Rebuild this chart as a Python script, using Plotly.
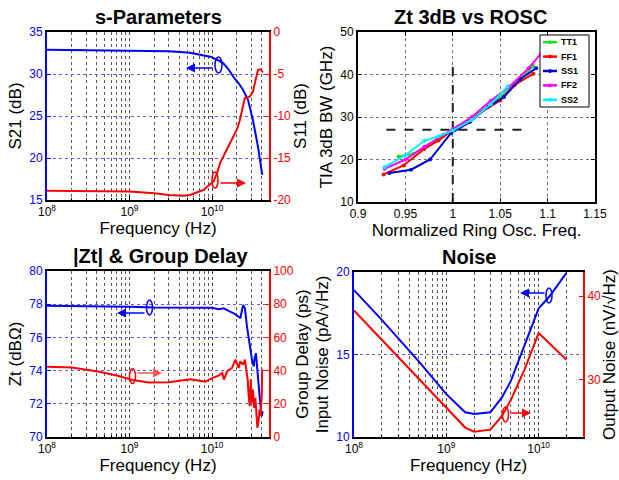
import plotly.graph_objects as go

# ---------------- DATA ----------------
# s-Parameters
s21_freq = [1e8, 3e8, 1e9, 2e9, 3e9, 5.4e9, 7e9, 9.5e9, 1.15e10, 1.37e10, 1.6e10, 1.8e10,
            2.1e10, 2.38e10, 2.73e10, 3.13e10, 3.6e10, 4.06e10]
s21_db = [32.9, 32.85, 32.8, 32.75, 32.7, 32.54, 32.35, 32.06, 31.7, 31.27, 30.5, 29.7,
          28.9, 28.1, 26.9, 24.5, 21.35, 17.98]
s11_freq = [1e8, 3e8, 1e9, 2e9, 3e9, 4.5e9, 5.4e9, 6.5e9, 7.9e9, 9e9, 1.04e10, 1.15e10,
            1.25e10, 1.5e10, 1.8e10, 2e10, 2.17e10, 2.38e10, 2.49e10, 2.86e10, 3.13e10,
            3.37e10, 3.6e10, 3.85e10, 4.06e10, 4.1e10]
s11_db = [-18.9, -18.95, -19.0, -19.2, -19.4, -19.5, -19.4, -19.1, -18.8, -18.3, -17.8, -16.8,
          -15.6, -14.05, -12.5, -11.6, -10.5, -8.5, -7.9, -7.7, -7.1,
          -5.7, -4.5, -4.45, -4.7, -4.6]
s21_ticks = [15, 20, 25, 30, 35]
s11_ticks = [-20, -15, -10, -5, 0]

# Zt 3dB vs ROSC
corner_names = ["TT1", "FF1", "SS1", "FF2", "SS2"]
tt1_x = [0.943, 0.958, 0.975, 0.99, 1.0, 1.02, 1.04, 1.06, 1.085]
tt1_y = [20.7, 21.3, 23.5, 25.5, 26.8, 29.5, 33.0, 36.5, 42.0]
ff1_x = [0.927, 0.948, 0.97, 0.985, 1.0, 1.02, 1.05, 1.065, 1.085]
ff1_y = [16.5, 18.6, 22.5, 24.5, 27.0, 29.8, 33.9, 37.5, 40.2]
ss1_x = [0.933, 0.956, 0.976, 0.998, 1.018, 1.037, 1.054, 1.071, 1.088]
ss1_y = [16.8, 17.6, 20.0, 26.2, 28.8, 32.4, 34.7, 38.9, 41.5]
ff2_x = [0.928, 0.95, 0.97, 0.99, 1.0, 1.02, 1.04, 1.06, 1.08, 1.093]
ff2_y = [17.8, 20.0, 23.0, 25.8, 27.2, 30.0, 33.8, 37.2, 41.5, 44.9]
ss2_x = [0.928, 0.95, 0.97, 0.985, 1.0, 1.02, 1.04, 1.058]
ss2_y = [18.2, 21.0, 24.4, 25.5, 26.8, 29.3, 33.0, 37.2]
ref_bw = 27
ref_h_span = [0.93, 1.08]
ref_osc = 1.0
ref_v_span = [10, 42]
osc_ticks = [0.9, 0.95, 1.0, 1.05, 1.1, 1.15]
osc_tick_text = ["0.9", "0.95", "1", "1.05", "1.1", "1.15"]
bw_ticks = [10, 20, 30, 40, 50]

# |Zt| & Group Delay
zt_freq = [1e8, 5e8, 1e9, 2e9, 4e9, 6e9, 8e9, 1e10, 1.2e10, 1.39e10, 1.65e10, 1.84e10,
           2.1e10, 2.2e10, 2.38e10, 2.5e10, 2.65e10, 2.86e10, 3.05e10, 3.2e10, 3.28e10,
           3.4e10, 3.5e10, 3.66e10, 3.83e10, 4.0e10, 4.1e10]
zt_dbohm = [77.9, 77.88, 77.85, 77.8, 77.8, 77.82, 77.78, 77.78, 77.7, 77.75, 77.55, 77.45,
            77.25, 77.15, 77.96, 77.75, 76.65, 75.55, 74.65, 74.25, 74.75,
            75.05, 74.25, 73.05, 72.05, 71.25, 71.55]
gd_freq = [1e8, 2e8, 4.3e8, 7e8, 1.09e9, 1.72e9, 3e9, 4.3e9, 5.5e9, 7.3e9, 8.3e9, 1e10,
           1.2e10, 1.33e10, 1.39e10, 1.53e10, 1.75e10, 1.92e10, 2.0e10, 2.1e10, 2.2e10,
           2.38e10, 2.5e10, 2.6e10, 2.7e10, 2.78e10, 2.86e10, 2.94e10, 3.05e10, 3.13e10,
           3.22e10, 3.35e10, 3.44e10, 3.54e10, 3.66e10, 3.77e10, 3.87e10, 4.0e10, 4.05e10]
gd_ps = [42.3, 41.8, 39.3, 37.0, 34.3, 32.9, 33.0, 34.3, 34.8, 33.8, 33.3, 35.5,
         37.0, 38.6, 34.6, 39.6, 41.6, 46.6, 44.6, 41.6, 45.6,
         43.6, 46.6, 40.6, 34.6, 24.6, 18.6, 34.6, 20.6, 28.6,
         17.6, 23.6, 12.6, 5.6, 9.6, 16.6, 12.6, 24.6, 40.6]
zt_ticks = [70, 72, 74, 76, 78, 80]
gd_ticks = [0, 20, 40, 60, 80, 100]

# Noise
noise_freq = [1e8, 2e8, 5e8, 1e9, 1.6e9, 2e9, 3e9, 4e9, 5e9, 7e9, 1e10, 1.3e10, 2e10]
noise_in = [18.9, 17.1, 14.6, 12.6, 11.5, 11.4, 11.5, 12.4, 13.4, 15.5, 17.8, 18.5, 19.95]
noise_out_freq = [1e8, 2e8, 5e8, 1e9, 1.6e9, 2e9, 3e9, 4e9, 5e9, 7e9, 1e10, 2e10]
noise_out = [38.3, 34.8, 30.1, 26.6, 24.3, 23.8, 24.05, 25.7, 27.6, 31.2, 35.6, 32.4]
noise_in_ticks = [10, 15, 20]
noise_out_ticks = [30, 40]

# ---------------- STYLE ----------------
W, H = 619, 480
BLUE = "#0000ff"
RED = "#ff0000"
GRID_BLUE = "#5a5aff"
FONT = "Liberation Sans, Arial, sans-serif"
corner_colors = ["#22dd22", "#ff0000", "#0000cc", "#ff00ff", "#00eeff"]


def px(x):
    return x / W


def py(y):
    return 1 - y / H


def txt(v):
    return str(v).replace("−", "-")


minor_vals = [k * 10 ** e for e in (8, 9, 10) for k in range(2, 10)]
major_vals = [1e8, 1e9, 1e10]
major_text = ["10<sup>8</sup>", "10<sup>9</sup>", "10<sup>10</sup>"]


def log_xaxis(domain, rng, anchor):
    return dict(
        type="log", domain=domain, range=rng, anchor=anchor, automargin=False,
        tickvals=major_vals, ticktext=major_text,
        showgrid=True, gridcolor="#444444", griddash="dot", gridwidth=1,
        minor=dict(tickvals=minor_vals, showgrid=True, gridcolor="#5a5a5a",
                   griddash="dot", gridwidth=1, ticks="inside", ticklen=2,
                   tickcolor="black"),
        ticks="inside", ticklen=4, tickcolor="black",
        showline=True, linecolor="black", linewidth=2, mirror=True,
        tickfont=dict(size=12, color="black"),
        title=dict(text="Frequency (Hz)", font=dict(size=17, color="black"), standoff=3),
        zeroline=False,
    )


def left_y(domain, rng, anchor, tickvals, title):
    return dict(
        domain=domain, range=rng, anchor=anchor, tickvals=tickvals,
        ticktext=[txt(v) for v in tickvals], automargin=False,
        showline=True, linecolor=BLUE, linewidth=2,
        ticks="inside", ticklen=4, tickcolor=BLUE,
        tickfont=dict(size=12, color=BLUE),
        showgrid=True, gridcolor=GRID_BLUE, griddash="dot", gridwidth=1,
        zeroline=False,
        title=dict(text=title, font=dict(size=17, color="black"), standoff=3),
    )


def right_y(overlay, rng, anchor, tickvals, title):
    return dict(
        overlaying=overlay, side="right", range=rng, anchor=anchor, tickvals=tickvals,
        ticktext=[txt(v) for v in tickvals], automargin=False,
        showline=True, linecolor=RED, linewidth=2,
        ticks="inside", ticklen=4, tickcolor=RED,
        tickfont=dict(size=12, color=RED),
        showgrid=False, zeroline=False,
        title=dict(text=title, font=dict(size=17, color="black"), standoff=3),
    )


fig = go.Figure()

# --- s-Parameters
fig.add_trace(go.Scatter(x=s21_freq, y=s21_db, mode="lines", line=dict(color=BLUE, width=2),
                         xaxis="x", yaxis="y", showlegend=False))
fig.add_trace(go.Scatter(x=s11_freq, y=s11_db, mode="lines", line=dict(color=RED, width=2),
                         xaxis="x", yaxis="y2", showlegend=False))

# --- Zt 3dB vs ROSC
fig.add_trace(go.Scatter(x=ref_h_span, y=[ref_bw, ref_bw], mode="lines",
                         line=dict(color="#222222", width=2, dash="dash"),
                         xaxis="x2", yaxis="y3", showlegend=False))
fig.add_trace(go.Scatter(x=[ref_osc, ref_osc], y=ref_v_span, mode="lines",
                         line=dict(color="#222222", width=2, dash="dash"),
                         xaxis="x2", yaxis="y3", showlegend=False))
for name, xs, ys, col in zip(corner_names,
                             [tt1_x, ff1_x, ss1_x, ff2_x, ss2_x],
                             [tt1_y, ff1_y, ss1_y, ff2_y, ss2_y],
                             corner_colors):
    fig.add_trace(go.Scatter(x=xs, y=ys, mode="lines+markers", name=name,
                             line=dict(color=col, width=2),
                             marker=dict(color=col, size=4),
                             xaxis="x2", yaxis="y3", showlegend=False))

# --- |Zt| & Group Delay
fig.add_trace(go.Scatter(x=zt_freq, y=zt_dbohm, mode="lines", line=dict(color=BLUE, width=2),
                         xaxis="x3", yaxis="y4", showlegend=False))
fig.add_trace(go.Scatter(x=gd_freq, y=gd_ps, mode="lines", line=dict(color=RED, width=2),
                         xaxis="x3", yaxis="y5", showlegend=False))

# --- Noise
fig.add_trace(go.Scatter(x=noise_freq, y=noise_in, mode="lines", line=dict(color=BLUE, width=2),
                         xaxis="x4", yaxis="y6", showlegend=False))
fig.add_trace(go.Scatter(x=noise_out_freq, y=noise_out, mode="lines", line=dict(color=RED, width=2),
                         xaxis="x4", yaxis="y7", showlegend=False))

# domains
tl_x = [px(47), px(269)]
tl_y = [py(200), py(32)]
tr_x = [px(358), px(595)]
tr_y = [py(202), py(32)]
bl_x = [px(47), px(269)]
bl_y = [py(437), py(271)]
br_x = [px(354), px(583)]
br_y = [py(437), py(272)]

layout = dict(
    template="none",
    width=W, height=H,
    margin=dict(l=0, r=0, t=0, b=0, autoexpand=False),
    paper_bgcolor="white", plot_bgcolor="white",
    font=dict(family=FONT, color="black"),
    showlegend=False,
    xaxis=log_xaxis(tl_x, [8, 10.69], "y"),
    yaxis=left_y(tl_y, [15, 35], "x", s21_ticks, "S21 (dB)"),
    yaxis2=right_y("y", [-20, 0], "x", s11_ticks, "S11 (dB)"),
    xaxis2=dict(domain=tr_x, range=[0.9, 1.15], anchor="y3", automargin=False,
                tickvals=osc_ticks, ticktext=osc_tick_text,
                showgrid=True, gridcolor="#777777", griddash="dot", gridwidth=1,
                ticks="inside", ticklen=4, tickcolor="black",
                showline=True, linecolor="black", linewidth=2, mirror="ticks",
                tickfont=dict(size=12, color="black"), zeroline=False,
                title=dict(text="Normalized Ring Osc. Freq.", font=dict(size=17), standoff=3)),
    yaxis3=dict(domain=tr_y, range=[10, 50], anchor="x2", tickvals=bw_ticks,
                automargin=False,
                showgrid=True, gridcolor="#777777", griddash="dot", gridwidth=1,
                ticks="inside", ticklen=4, tickcolor="black",
                showline=True, linecolor="black", linewidth=2, mirror="ticks",
                tickfont=dict(size=12, color="black"), zeroline=False,
                title=dict(text="TIA 3dB BW (GHz)", font=dict(size=17), standoff=3)),
    xaxis3=log_xaxis(bl_x, [8, 10.69], "y4"),
    yaxis4=left_y(bl_y, [70, 80], "x3", zt_ticks, "Zt (dBΩ)"),
    yaxis5=right_y("y4", [0, 100], "x3", gd_ticks, "Group Delay (ps)"),
    xaxis4=log_xaxis(br_x, [8, 10.48], "y6"),
    yaxis6=left_y(br_y, [10, 20], "x4", noise_in_ticks, "Input Noise (pA/√Hz)"),
    yaxis7=right_y("y6", [23.17, 42.9], "x4", noise_out_ticks, "Output Noise (nV/√Hz)"),
)
fig.update_layout(**layout)

# titles
titles = [("s-Parameters", 158, 17), ("Zt 3dB vs ROSC", 470, 17),
          ("|Zt| &amp; Group Delay", 160, 256), ("Noise", 469, 257)]
for t, cx, cy in titles:
    fig.add_annotation(text="<b>" + t + "</b>", x=px(cx), y=py(cy), xref="paper", yref="paper",
                       showarrow=False, xanchor="center", yanchor="middle",
                       font=dict(size=20, color="black", family=FONT))

# manual legend for the corner plot (box + line sample + marker + label)
leg_left, leg_top, leg_right, leg_bottom = 540, 35, 589, 107
fig.add_shape(type="rect", xref="paper", yref="paper",
              x0=px(leg_left), x1=px(leg_right), y0=py(leg_bottom), y1=py(leg_top),
              line=dict(color="black", width=1), fillcolor="white", layer="above")
row_h = (leg_bottom - leg_top) / len(corner_names)
for i, (name, col) in enumerate(zip(corner_names, corner_colors)):
    cy = leg_top + row_h * (i + 0.5)
    fig.add_shape(type="line", xref="paper", yref="paper",
                  x0=px(543), x1=px(557), y0=py(cy), y1=py(cy),
                  line=dict(color=col, width=2.5), layer="above")
    fig.add_shape(type="circle", xref="paper", yref="paper",
                  x0=px(548.5), x1=px(551.5), y0=py(cy + 1.5), y1=py(cy - 1.5),
                  line=dict(color=col, width=1), fillcolor=col, layer="above")
    fig.add_annotation(text="<b>" + name + "</b>", x=px(559), y=py(cy), xref="paper", yref="paper",
                       showarrow=False, xanchor="left", yanchor="middle",
                       font=dict(size=9, color="black", family=FONT))

# arrows (head, tail) and ellipses (center, w, h)
arrows = [((186, 68), (214, 68), BLUE), ((246, 183), (219, 183), RED),
          ((117, 313), (146, 313), BLUE), ((162, 373), (136, 373), "#ff5555"),
          ((520, 293), (546, 293), BLUE), ((531, 413), (509, 413), RED)]
for (hx, hy), (tx, ty), col in arrows:
    fig.add_annotation(x=px(hx), y=py(hy), xref="paper", yref="paper", text="",
                       showarrow=True, ax=tx - hx, ay=ty - hy, axref="pixel", ayref="pixel",
                       arrowhead=2, arrowsize=1.2, arrowwidth=1.5, arrowcolor=col)
ellipses = [((218.5, 65), 7, 16, BLUE), ((215, 180), 6, 16, RED),
            ((149.5, 307.5), 6, 15, BLUE), ((132.5, 376), 6, 15, RED),
            ((549, 295.5), 6, 15, BLUE), ((505.5, 414.5), 6, 15, RED)]
for (cx, cy), w, h, col in ellipses:
    fig.add_shape(type="circle", xref="paper", yref="paper",
                  x0=px(cx - w / 2), x1=px(cx + w / 2), y0=py(cy + h / 2), y1=py(cy - h / 2),
                  line=dict(color=col, width=1.5))

fig.write_html("out.html")
